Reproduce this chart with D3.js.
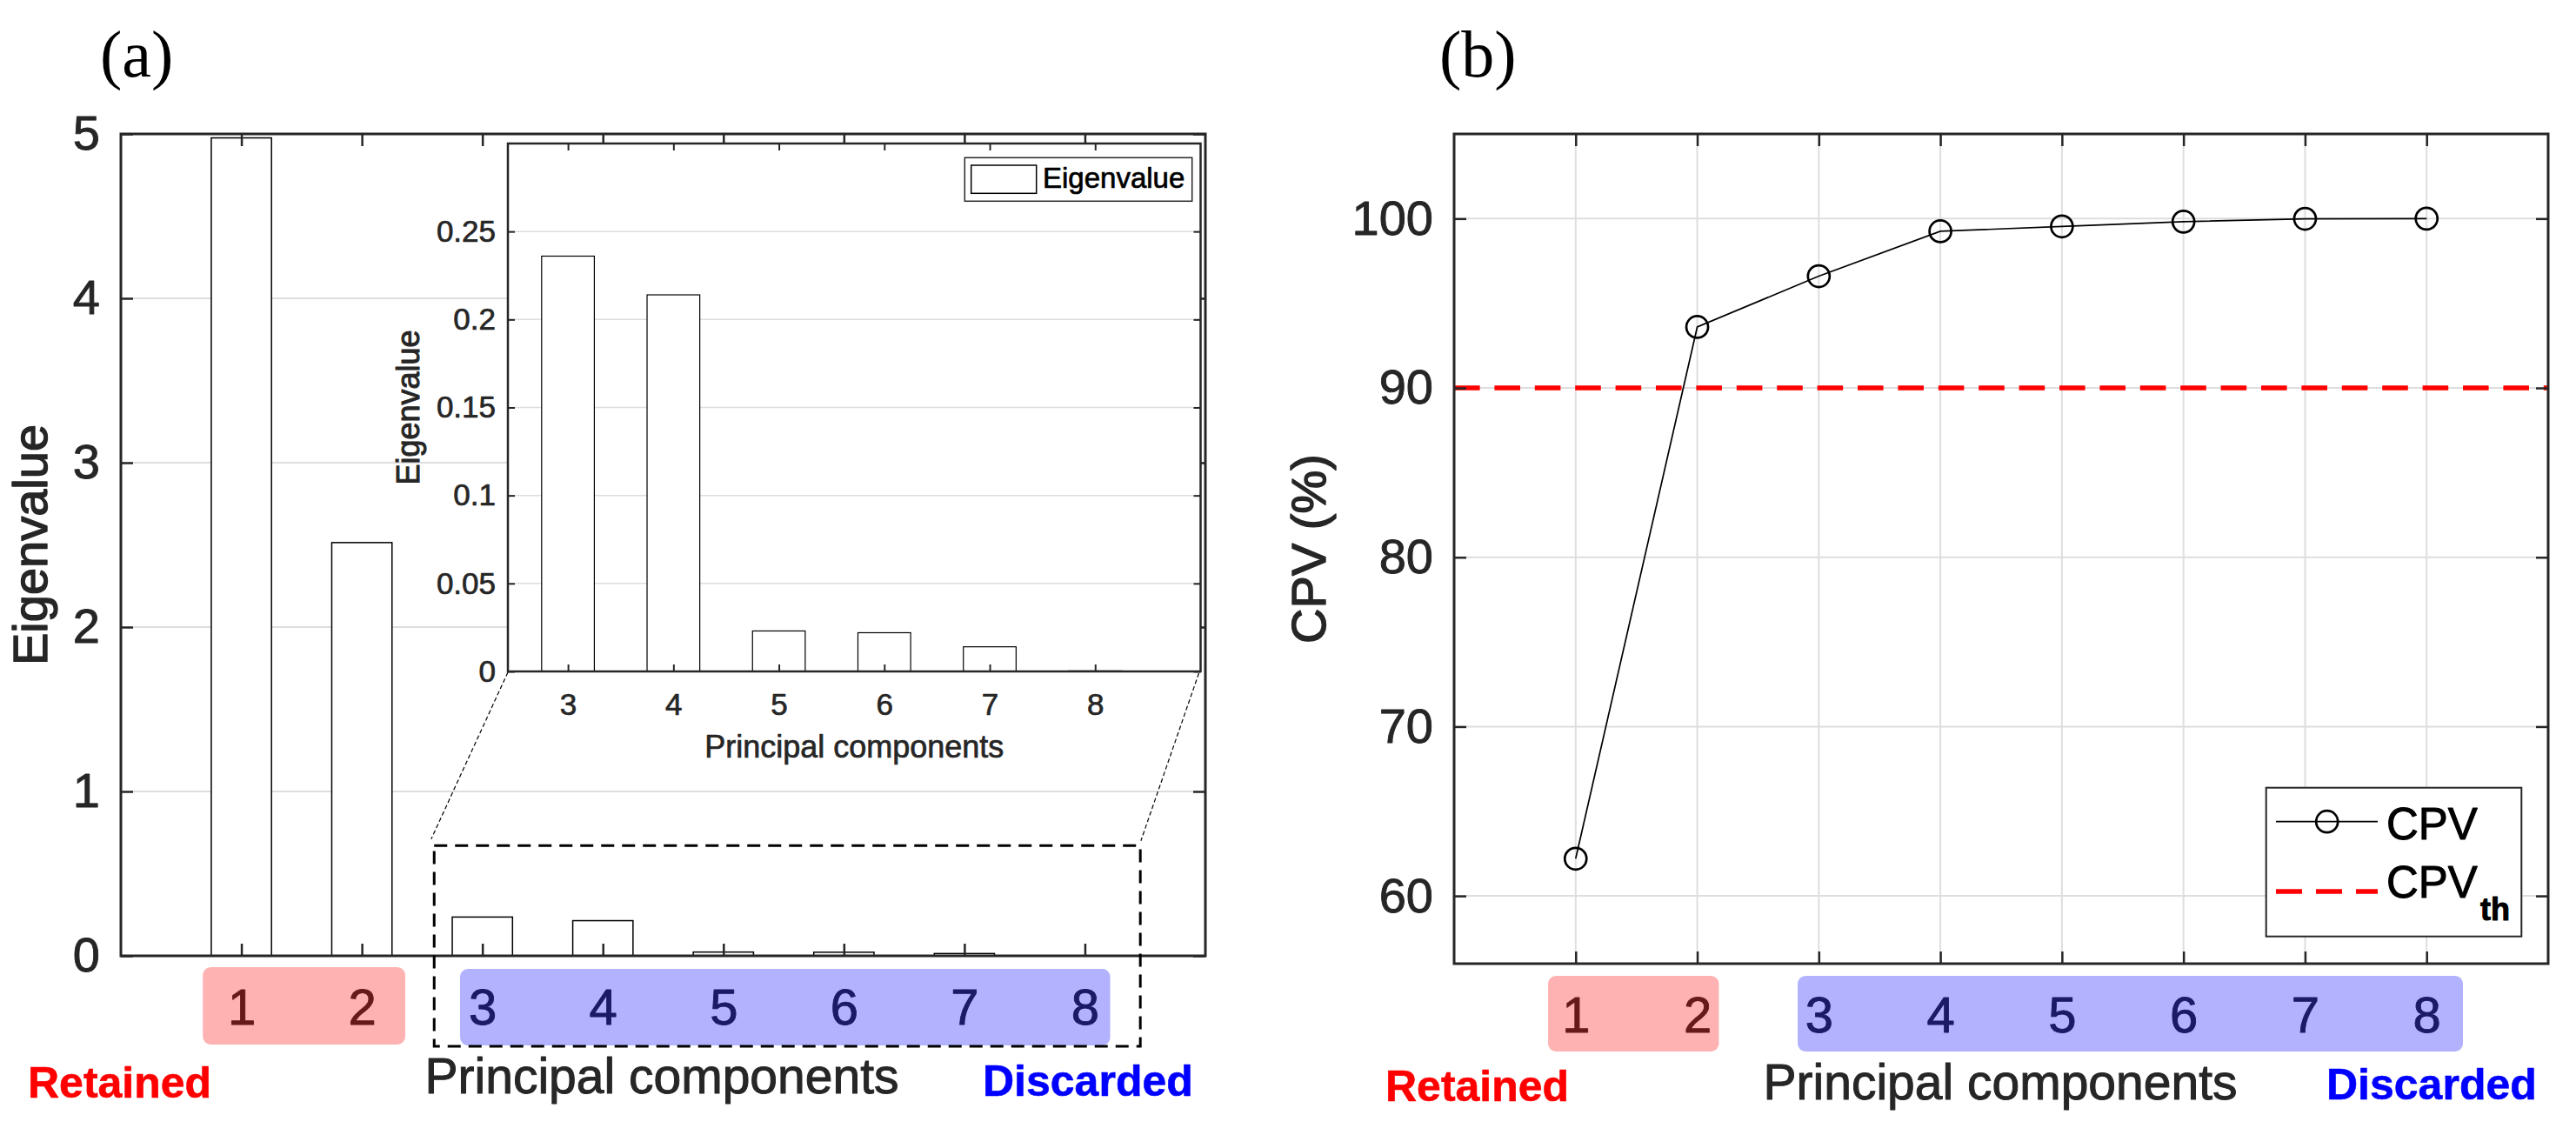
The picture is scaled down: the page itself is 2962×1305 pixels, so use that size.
<!DOCTYPE html>
<html>
<head>
<meta charset="utf-8">
<script src="https://cdn.jsdelivr.net/npm/d3@7/dist/d3.min.js"></script>
<style>
  html, body { margin: 0; padding: 0; background: #fff; }
  svg { display: block; }
</style>
</head>
<body>
<script>
// ---------------- DATA ----------------
const components   = [1, 2, 3, 4, 5, 6, 7, 8];
const eigenvalues  = [4.976, 2.514, 0.236, 0.214, 0.023, 0.022, 0.014, 0.0003];
const cpv          = [62.2, 93.6, 96.6, 99.25, 99.54, 99.82, 99.99, 100];
const cpvThreshold = 90;
const retainedPCs  = [1, 2];
const discardedPCs = [3, 4, 5, 6, 7, 8];
const eigenTicks   = [0, 1, 2, 3, 4, 5];
const insetTicks   = [0, 0.05, 0.1, 0.15, 0.2, 0.25];
const cpvTicks     = [60, 70, 80, 90, 100];
const insetPCs     = [3, 4, 5, 6, 7, 8];

// ---------------- SETUP ----------------
const W = 2962, H = 1305;
const FONT = "'Liberation Sans', Arial, Helvetica, sans-serif";
const SERIF = "'Liberation Serif', 'Times New Roman', serif";
const AX = '#262626';
const GRID = '#dedede';

const svg = d3.select('body').append('svg')
  .attr('width', W).attr('height', H)
  .attr('viewBox', `0 0 ${W} ${H}`);
svg.append('rect').attr('width', W).attr('height', H).attr('fill', '#fff');

// slightly heavier text, like the reference rendering
function heavy(sel, w) {
  return sel.attr('stroke', function () { return d3.select(this).attr('fill'); })
    .attr('stroke-width', w).attr('stroke-linejoin', 'round');
}

function styleAxis(g, fs, sw) {
  g.select('.domain').remove();
  g.selectAll('.tick line').attr('stroke', AX).attr('stroke-width', 2.5);
  g.selectAll('.tick text').attr('fill', AX).attr('font-size', fs).attr('font-family', FONT)
    .attr('stroke', AX).attr('stroke-width', sw || 0.9).attr('stroke-linejoin', 'round');
}

// ================= PANEL (a) =================
const A = { l: 139, r: 1386, t: 154, b: 1099 };
const xa = d3.scaleLinear().domain([0, 9]).range([A.l, A.r]);
const ya = d3.scaleLinear().domain([0, 5]).range([A.b, A.t]);
const ga = svg.append('g');

// grid
ga.append('g').selectAll('line').data(eigenTicks.filter(d => d > 0 && d < 5)).join('line')
  .attr('x1', A.l).attr('x2', A.r).attr('y1', d => ya(d)).attr('y2', d => ya(d))
  .attr('stroke', GRID).attr('stroke-width', 2);

// bars
const barW = 0.5;
ga.append('g').selectAll('rect').data(components).join('rect')
  .attr('x', (d) => xa(d - barW / 2))
  .attr('width', xa(barW) - xa(0))
  .attr('y', (d, i) => ya(eigenvalues[i]))
  .attr('height', (d, i) => ya(0) - ya(eigenvalues[i]))
  .attr('fill', '#fff').attr('stroke', '#000').attr('stroke-width', 1.5);

// axes
ga.append('g').attr('transform', `translate(${A.l},0)`)
  .call(d3.axisLeft(ya).tickValues(eigenTicks).tickSize(-14).tickPadding(24).tickFormat(d3.format('d')))
  .call(g => styleAxis(g, 56));
ga.append('g').attr('transform', `translate(${A.r},0)`)
  .call(d3.axisRight(ya).tickValues(eigenTicks).tickSize(-14).tickFormat(''))
  .call(g => styleAxis(g, 56));
ga.append('g').attr('transform', `translate(0,${A.t})`)
  .call(d3.axisTop(xa).tickValues(components).tickSize(-14).tickFormat(''))
  .call(g => styleAxis(g, 56));
ga.append('g').attr('transform', `translate(0,${A.b})`)
  .call(d3.axisBottom(xa).tickValues(components).tickSize(-14).tickPadding(38).tickFormat(d3.format('d')))
  .call(g => styleAxis(g, 58));
ga.append('rect').attr('x', A.l).attr('y', A.t).attr('width', A.r - A.l).attr('height', A.b - A.t)
  .attr('fill', 'none').attr('stroke', AX).attr('stroke-width', 3);

// y label
heavy(ga.append('text').attr('transform', `translate(54,${(A.t + A.b) / 2}) rotate(-90)`)
  .attr('text-anchor', 'middle').attr('font-family', FONT).attr('font-size', 56).attr('fill', AX)
  .text('Eigenvalue'), 1.4);

// colored group boxes (semi-transparent over labels)
ga.append('rect').attr('x', xa(0.68)).attr('width', xa(2.36) - xa(0.68))
  .attr('y', A.b + 13).attr('height', 89).attr('rx', 9)
  .attr('fill', 'red').attr('fill-opacity', 0.3);
ga.append('rect').attr('x', xa(2.815)).attr('width', xa(8.21) - xa(2.815))
  .attr('y', A.b + 15).attr('height', 88).attr('rx', 9)
  .attr('fill', 'blue').attr('fill-opacity', 0.3);

// dashed zoom box
ga.append('rect').attr('x', xa(2.6)).attr('width', xa(8.46) - xa(2.6))
  .attr('y', ya(0.67)).attr('height', (A.b + 104) - ya(0.67))
  .attr('fill', 'none').attr('stroke', '#000').attr('stroke-width', 3)
  .attr('stroke-dasharray', '15,9');

// bottom texts
heavy(ga.append('text').attr('x', 32).attr('y', 1262).attr('font-family', FONT).attr('font-size', 50)
  .attr('font-weight', 'bold').attr('fill', '#ff0000').text('Retained'), 0.6);
heavy(ga.append('text').attr('x', 761).attr('y', 1257).attr('text-anchor', 'middle').attr('font-family', FONT)
  .attr('font-size', 57).attr('fill', AX).text('Principal components'), 1.0);
heavy(ga.append('text').attr('x', 1130).attr('y', 1260).attr('font-family', FONT).attr('font-size', 50)
  .attr('font-weight', 'bold').attr('fill', '#0000ff').text('Discarded'), 0.6);

// panel letter
svg.append('text').attr('x', 115).attr('y', 88).attr('font-family', SERIF).attr('font-size', 76)
  .attr('fill', '#000').text('(a)');

// ---------------- INSET ----------------
const I = { l: 584, r: 1380.5, t: 165, b: 772 };
const xi = d3.scaleLinear().domain([2.43, 9]).range([I.l, I.r]);
const yi = d3.scaleLinear().domain([0, 0.3]).range([I.b, I.t]);
const gi = svg.append('g');

// connector lines
gi.append('line').attr('x1', I.l).attr('y1', I.b + 1).attr('x2', xa(2.575)).attr('y2', ya(0.71))
  .attr('stroke', '#000').attr('stroke-width', 1.2).attr('stroke-dasharray', '5,3');
gi.append('line').attr('x1', I.r - 2).attr('y1', I.b + 2).attr('x2', xa(8.465)).attr('y2', ya(0.70))
  .attr('stroke', '#000').attr('stroke-width', 1.2).attr('stroke-dasharray', '5,3');

gi.append('rect').attr('x', I.l).attr('y', I.t).attr('width', I.r - I.l).attr('height', I.b - I.t)
  .attr('fill', '#fff');
gi.append('g').selectAll('line').data(insetTicks.filter(d => d > 0)).join('line')
  .attr('x1', I.l).attr('x2', I.r).attr('y1', d => yi(d)).attr('y2', d => yi(d))
  .attr('stroke', GRID).attr('stroke-width', 1.5);

gi.append('g').selectAll('rect').data(insetPCs).join('rect')
  .attr('x', d => xi(d - barW / 2))
  .attr('width', xi(barW) - xi(0))
  .attr('y', d => yi(eigenvalues[d - 1]))
  .attr('height', d => yi(0) - yi(eigenvalues[d - 1]))
  .attr('fill', '#fff').attr('stroke', '#000').attr('stroke-width', 1.2);

const fmtInset = d => String(+d.toFixed(2));
gi.append('g').attr('transform', `translate(${I.l},0)`)
  .call(d3.axisLeft(yi).tickValues(insetTicks).tickSize(-8).tickPadding(14).tickFormat(fmtInset))
  .call(g => styleAxis(g, 35, 0.7));
gi.append('g').attr('transform', `translate(${I.r},0)`)
  .call(d3.axisRight(yi).tickValues(insetTicks).tickSize(-8).tickFormat(''))
  .call(g => styleAxis(g, 35));
gi.append('g').attr('transform', `translate(0,${I.t})`)
  .call(d3.axisTop(xi).tickValues(insetPCs).tickSize(-8).tickFormat(''))
  .call(g => styleAxis(g, 35));
gi.append('g').attr('transform', `translate(0,${I.b})`)
  .call(d3.axisBottom(xi).tickValues(insetPCs).tickSize(-8).tickPadding(25).tickFormat(d3.format('d')))
  .call(g => styleAxis(g, 35, 0.7));
gi.selectAll('.tick line').attr('stroke-width', 2);
gi.append('rect').attr('x', I.l).attr('y', I.t).attr('width', I.r - I.l).attr('height', I.b - I.t)
  .attr('fill', 'none').attr('stroke', AX).attr('stroke-width', 2.5);

heavy(gi.append('text').attr('x', (I.l + I.r) / 2).attr('y', 871).attr('text-anchor', 'middle')
  .attr('font-family', FONT).attr('font-size', 36).attr('fill', AX).text('Principal components'), 0.7);
heavy(gi.append('text').attr('transform', `translate(482,${(I.t + I.b) / 2}) rotate(-90)`)
  .attr('text-anchor', 'middle').attr('font-family', FONT).attr('font-size', 36).attr('fill', AX)
  .text('Eigenvalue'), 1.0);

// inset legend
gi.append('rect').attr('x', 1109.3).attr('y', 181.3).attr('width', 261.4).attr('height', 50)
  .attr('fill', '#fff').attr('stroke', AX).attr('stroke-width', 1.5);
gi.append('rect').attr('x', 1116.7).attr('y', 190).attr('width', 75).attr('height', 32.3)
  .attr('fill', '#fff').attr('stroke', '#000').attr('stroke-width', 1.5);
heavy(gi.append('text').attr('x', 1199).attr('y', 216).attr('font-family', FONT).attr('font-size', 33)
  .attr('fill', '#000').text('Eigenvalue'), 0.7);

// ================= PANEL (b) =================
const B = { l: 1672, r: 2930, t: 154, b: 1108 };
const xb = d3.scaleLinear().domain([0, 9]).range([B.l, B.r]);
const yb = d3.scaleLinear().domain([56, 105]).range([B.b, B.t]);
const gb = svg.append('g');

gb.append('g').selectAll('line').data(cpvTicks).join('line')
  .attr('x1', B.l).attr('x2', B.r).attr('y1', d => yb(d)).attr('y2', d => yb(d))
  .attr('stroke', GRID).attr('stroke-width', 2);
gb.append('g').selectAll('line').data(components).join('line')
  .attr('y1', B.t).attr('y2', B.b).attr('x1', d => xb(d)).attr('x2', d => xb(d))
  .attr('stroke', GRID).attr('stroke-width', 2);

// threshold line
gb.append('line').attr('x1', B.l).attr('x2', B.r).attr('y1', yb(cpvThreshold)).attr('y2', yb(cpvThreshold))
  .attr('stroke', '#ff0000').attr('stroke-width', 5.5).attr('stroke-dasharray', '29.6,16.8');

// CPV line + markers
const line = d3.line().x((d, i) => xb(components[i])).y(d => yb(d));
gb.append('path').datum(cpv).attr('d', line).attr('fill', 'none')
  .attr('stroke', '#000').attr('stroke-width', 1.7);
gb.append('g').selectAll('circle').data(cpv).join('circle')
  .attr('cx', (d, i) => xb(components[i])).attr('cy', d => yb(d)).attr('r', 12.5)
  .attr('fill', 'none').attr('stroke', '#000').attr('stroke-width', 2.7);

// axes
gb.append('g').attr('transform', `translate(${B.l},0)`)
  .call(d3.axisLeft(yb).tickValues(cpvTicks).tickSize(-14).tickPadding(24).tickFormat(d3.format('d')))
  .call(g => styleAxis(g, 56));
gb.append('g').attr('transform', `translate(${B.r},0)`)
  .call(d3.axisRight(yb).tickValues(cpvTicks).tickSize(-14).tickFormat(''))
  .call(g => styleAxis(g, 56));
gb.append('g').attr('transform', `translate(0,${B.t})`)
  .call(d3.axisTop(xb).tickValues(components).tickSize(-14).tickFormat(''))
  .call(g => styleAxis(g, 56));
gb.append('g').attr('transform', `translate(0,${B.b})`)
  .call(d3.axisBottom(xb).tickValues(components).tickSize(-14).tickPadding(38).tickFormat(d3.format('d')))
  .call(g => styleAxis(g, 58));
gb.append('rect').attr('x', B.l).attr('y', B.t).attr('width', B.r - B.l).attr('height', B.b - B.t)
  .attr('fill', 'none').attr('stroke', AX).attr('stroke-width', 3);

heavy(gb.append('text').attr('transform', `translate(1524,${(B.t + B.b) / 2}) rotate(-90)`)
  .attr('text-anchor', 'middle').attr('font-family', FONT).attr('font-size', 56).attr('fill', AX)
  .text('CPV (%)'), 1.4);

// group boxes
gb.append('rect').attr('x', xb(0.773)).attr('width', xb(2.178) - xb(0.773))
  .attr('y', B.b + 14).attr('height', 87).attr('rx', 9)
  .attr('fill', 'red').attr('fill-opacity', 0.3);
gb.append('rect').attr('x', xb(2.826)).attr('width', xb(8.299) - xb(2.826))
  .attr('y', B.b + 14).attr('height', 87).attr('rx', 9)
  .attr('fill', 'blue').attr('fill-opacity', 0.3);

// legend
gb.append('rect').attr('x', 2605.7).attr('y', 905.7).attr('width', 293.6).attr('height', 171)
  .attr('fill', '#fff').attr('stroke', AX).attr('stroke-width', 2);
gb.append('line').attr('x1', 2617).attr('x2', 2734).attr('y1', 944.7).attr('y2', 944.7)
  .attr('stroke', '#000').attr('stroke-width', 1.7);
gb.append('circle').attr('cx', 2675.7).attr('cy', 944.7).attr('r', 12.5)
  .attr('fill', 'none').attr('stroke', '#000').attr('stroke-width', 2.7);
heavy(gb.append('text').attr('x', 2744).attr('y', 965).attr('font-family', FONT).attr('font-size', 51)
  .attr('fill', '#000').text('CPV'), 1.0);
gb.append('line').attr('x1', 2617).attr('x2', 2734).attr('y1', 1025).attr('y2', 1025)
  .attr('stroke', '#ff0000').attr('stroke-width', 5.5).attr('stroke-dasharray', '30,16');
const th = heavy(gb.append('text').attr('x', 2744).attr('y', 1031.7).attr('font-family', FONT)
  .attr('font-size', 51).attr('fill', '#000'), 1.0);
th.append('tspan').text('CPV');
th.append('tspan').attr('x', 2852).attr('y', 1058).attr('font-size', 36).attr('font-weight', 'bold').text('th');

// bottom texts
heavy(gb.append('text').attr('x', 1593).attr('y', 1266).attr('font-family', FONT).attr('font-size', 50)
  .attr('font-weight', 'bold').attr('fill', '#ff0000').text('Retained'), 0.6);
heavy(gb.append('text').attr('x', 2300).attr('y', 1264).attr('text-anchor', 'middle').attr('font-family', FONT)
  .attr('font-size', 57).attr('fill', AX).text('Principal components'), 1.0);
heavy(gb.append('text').attr('x', 2675).attr('y', 1264).attr('font-family', FONT).attr('font-size', 50)
  .attr('font-weight', 'bold').attr('fill', '#0000ff').text('Discarded'), 0.6);

svg.append('text').attr('x', 1655).attr('y', 88).attr('font-family', SERIF).attr('font-size', 76)
  .attr('fill', '#000').text('(b)');
</script>
</body>
</html>
